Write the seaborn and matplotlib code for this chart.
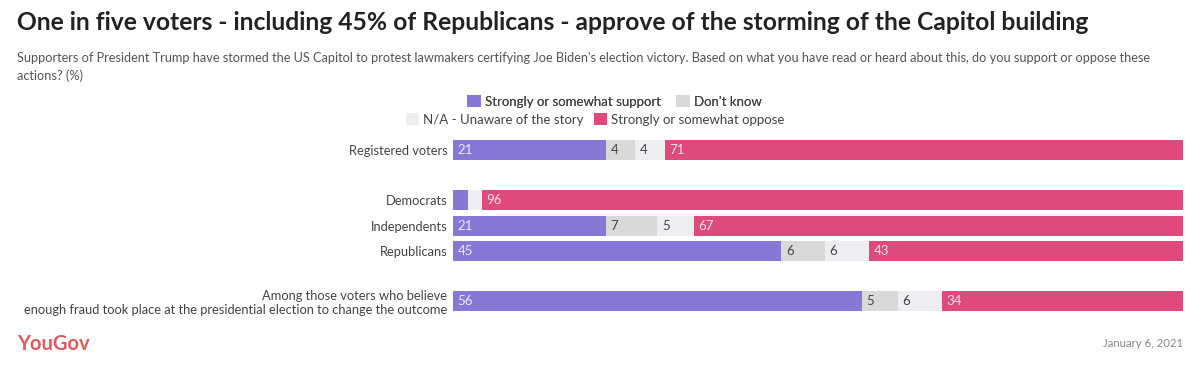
import matplotlib
matplotlib.use("Agg")
import matplotlib.pyplot as plt
import seaborn as sns
import pandas as pd
import numpy as np
from matplotlib.patches import Patch

categories = ["Registered voters", " ", "Democrats", "Independents", "Republicans", "  ",
              "Among those voters who believe\nenough fraud took place at the presidential election to change the outcome"]
support = [21, np.nan, 2, 21, 45, np.nan, 56]
dont_know = [4, np.nan, 0, 7, 6, np.nan, 5]
unaware = [4, np.nan, 2, 5, 6, np.nan, 6]
oppose = [71, np.nan, 96, 67, 43, np.nan, 34]
series_names = ["Strongly or somewhat support", "Don't know", "N/A - Unaware of the story", "Strongly or somewhat oppose"]
colors = ["#8877d6", "#d9d9d9", "#ededf2", "#df4a7d"]
label_colors = ["#ece8ff", "#444444", "#444444", "#fbe3ea"]

sns.set_theme(style="white")
plt.rcParams['font.family'] = ['Lato', 'DejaVu Sans']

df = pd.DataFrame({"cat": categories, "s": support, "d": dont_know, "u": unaware, "o": oppose})
cols = ["s", "d", "u", "o"]
cum = df[cols].cumsum(axis=1)

fig = plt.figure(figsize=(12, 3.83), dpi=100)
ax = fig.add_axes([0.3775, 0.181, 0.6083, 0.46])

for i in reversed(range(4)):
    sns.barplot(data=cum.assign(cat=categories), x=cols[i], y="cat", order=categories,
                orient="h", color=colors[i], width=0.8, ax=ax, saturation=1, linewidth=0)

for r, cat in enumerate(categories):
    start = 0
    for i, c in enumerate(cols):
        v = df[c].iloc[r]
        if np.isnan(v):
            continue
        if v >= 3:
            ax.text(start + 0.6, r, f"{int(v)}", va="center", ha="left",
                    fontsize=9.5, color=label_colors[i])
        start += v

ax.set_xlim(0, 100)
ax.set_ylim(6.5, -0.5)
ax.set_xlabel("")
ax.set_ylabel("")
ax.set_xticks([])
ax.tick_params(axis="y", length=0, pad=4, labelsize=9.3, labelcolor="#444444")
for lbl in ax.get_yticklabels():
    lbl.set_multialignment("right")
for s in ax.spines.values():
    s.set_visible(False)

fig.text(0.014, 0.942, "One in five voters - including 45% of Republicans - approve of the storming of the Capitol building",
         fontsize=17.7, fontweight="bold", color="#222222", va="center", ha="left")
fig.text(0.014, 0.848, "Supporters of President Trump have stormed the US Capitol to protest lawmakers certifying Joe Biden's election victory. Based on what you have read or heard about this, do you support or oppose these",
         fontsize=9.2, color="#555555", va="center", ha="left")
fig.text(0.014, 0.801, "actions? (%)", fontsize=9.2, color="#555555", va="center", ha="left")

h = [Patch(facecolor=c, edgecolor="none") for c in colors]
leg1 = fig.legend([h[0], h[1]], [series_names[0], series_names[1]], loc="center", ncol=2,
                  bbox_to_anchor=(0.512, 0.735), frameon=False, fontsize=9.5, handlelength=1.0,
                  handleheight=1.0, handletextpad=0.3, columnspacing=1.2, labelcolor="#444444")
leg2 = fig.legend([h[2], h[3]], [series_names[2], series_names[3]], loc="center", ncol=2,
                  bbox_to_anchor=(0.496, 0.688), frameon=False, fontsize=9.5, handlelength=1.0,
                  handleheight=1.0, handletextpad=0.3, columnspacing=0.8, labelcolor="#444444")
fig.add_artist(leg1)

fig.text(0.014, 0.103, "YouGov", fontsize=14.5, fontweight="bold", color="#e05a5e", va="center", ha="left")
fig.text(0.986, 0.103, "January 6, 2021", fontsize=8.2, color="#888888", va="center", ha="right")

fig.savefig("out.png", dpi=100, facecolor="white")
